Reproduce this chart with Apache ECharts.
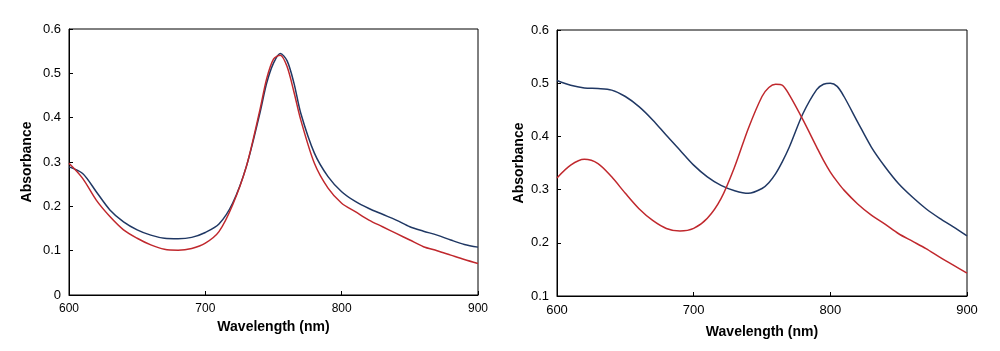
<!DOCTYPE html>
<html>
<head>
<meta charset="utf-8">
<script src="https://cdn.jsdelivr.net/npm/echarts@6/dist/echarts.min.js"></script>
<style>
  html, body { margin: 0; padding: 0; background: #fff; }
</style>
</head>
<body>
<div id="chart" style="width: 1000px; height: 351px"></div>
<script>
// left panel
const leftWl = [600, 610, 620, 630, 640, 650, 660, 670, 680, 690, 700, 710, 720, 730, 740, 745, 750, 755, 760, 765, 770, 780, 790, 800, 810, 820, 830, 840, 850, 860, 870, 880, 890, 900];
const leftBlue = [0.289, 0.274, 0.233, 0.192, 0.165, 0.147, 0.135, 0.128, 0.127, 0.130, 0.141, 0.160, 0.207, 0.289, 0.410, 0.478, 0.523, 0.545, 0.528, 0.478, 0.410, 0.320, 0.267, 0.233, 0.211, 0.195, 0.182, 0.169, 0.154, 0.144, 0.135, 0.124, 0.114, 0.108];
const leftRed = [0.297, 0.263, 0.214, 0.177, 0.147, 0.128, 0.113, 0.103, 0.101, 0.105, 0.117, 0.143, 0.203, 0.289, 0.417, 0.488, 0.532, 0.541, 0.515, 0.458, 0.395, 0.297, 0.241, 0.207, 0.188, 0.169, 0.154, 0.139, 0.124, 0.109, 0.100, 0.090, 0.080, 0.071];

// right panel
const rightWl = [600, 610, 620, 630, 640, 650, 660, 670, 680, 690, 700, 710, 720, 730, 740, 750, 755, 760, 765, 770, 780, 790, 795, 800, 805, 810, 820, 830, 840, 850, 860, 870, 880, 890, 900];
const rightBlue = [0.505, 0.496, 0.491, 0.490, 0.487, 0.475, 0.456, 0.431, 0.402, 0.374, 0.346, 0.324, 0.308, 0.298, 0.293, 0.302, 0.313, 0.330, 0.353, 0.380, 0.443, 0.488, 0.498, 0.500, 0.494, 0.475, 0.427, 0.380, 0.343, 0.311, 0.286, 0.264, 0.246, 0.230, 0.213];
const rightRed = [0.322, 0.346, 0.357, 0.349, 0.324, 0.293, 0.264, 0.242, 0.227, 0.222, 0.227, 0.246, 0.283, 0.343, 0.415, 0.475, 0.492, 0.498, 0.496, 0.478, 0.431, 0.380, 0.355, 0.333, 0.315, 0.299, 0.273, 0.252, 0.235, 0.217, 0.203, 0.189, 0.173, 0.158, 0.143];

const blue = "#203864";
const red = "#C0282D";

function pairs(xs, ys) {
  return xs.map((x, i) => [x, ys[i]]);
}

function xAxisFor(idx, fontSize, gap) {
  return {
    gridIndex: idx,
    type: "value",
    min: 600,
    max: 900,
    interval: 100,
    name: "Wavelength (nm)",
    nameLocation: "middle",
    nameGap: gap,
    nameTextStyle: { fontFamily: "Liberation Sans", fontWeight: "bold", fontSize: 14, color: "#000" },
    axisLine: { lineStyle: { color: "#000", width: 1 } },
    axisTick: { inside: true, length: 4, lineStyle: { color: "#000" } },
    axisLabel: { fontFamily: "Liberation Sans", fontSize: fontSize, color: "#000", margin: 8 },
    splitLine: { show: false },
  };
}

function yAxisFor(idx, min, gap) {
  return {
    gridIndex: idx,
    type: "value",
    min: min,
    max: 0.6,
    interval: 0.1,
    name: "Absorbance",
    nameLocation: "middle",
    nameGap: gap,
    nameTextStyle: { fontFamily: "Liberation Sans", fontWeight: "bold", fontSize: 14, color: "#000" },
    axisLine: { show: true, lineStyle: { color: "#000", width: 1 } },
    axisTick: { show: true, inside: true, length: 4, lineStyle: { color: "#000" } },
    axisLabel: { fontFamily: "Liberation Sans", fontSize: 13, color: "#000", margin: 8 },
    splitLine: { show: false },
  };
}

function line(xi, ys, color) {
  return {
    type: "line",
    xAxisIndex: xi,
    yAxisIndex: xi,
    data: ys,
    smooth: 0.3,
    symbol: "none",
    lineStyle: { color: color, width: 1.5 },
  };
}

const myChart = echarts.init(document.getElementById("chart"));
const option = {
  animation: false,
  grid: [
    { left: 69, right: 522, top: 29, bottom: 56, show: true, borderColor: "#000", borderWidth: 1 },
    { left: 557, right: 33, top: 30, bottom: 55, show: true, borderColor: "#000", borderWidth: 1 },
  ],
  xAxis: [xAxisFor(0, 12, 25), xAxisFor(1, 13, 29)],
  yAxis: [yAxisFor(0, 0, 35), yAxisFor(1, 0.1, 31)],
  series: [
    line(0, pairs(leftWl, leftBlue), blue),
    line(0, pairs(leftWl, leftRed), red),
    line(1, pairs(rightWl, rightBlue), blue),
    line(1, pairs(rightWl, rightRed), red),
  ],
};
myChart.setOption(option);
</script>
</body>
</html>
